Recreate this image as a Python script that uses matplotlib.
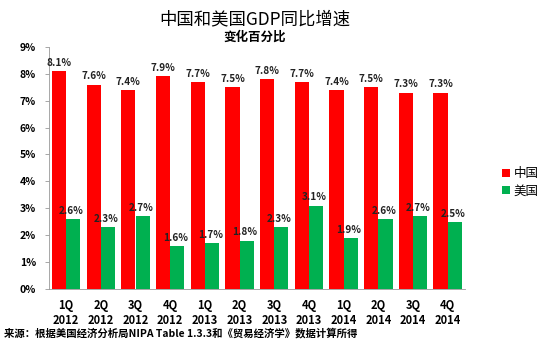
import matplotlib
matplotlib.use("Agg")
import matplotlib.pyplot as plt
import numpy as np

plt.rcParams['font.family'] = ['Noto Sans CJK SC', 'DejaVu Sans']

quarters = ["1Q\n2012", "2Q\n2012", "3Q\n2012", "4Q\n2012",
            "1Q\n2013", "2Q\n2013", "3Q\n2013", "4Q\n2013",
            "1Q\n2014", "2Q\n2014", "3Q\n2014", "4Q\n2014"]
china = [8.1, 7.6, 7.4, 7.9, 7.7, 7.5, 7.8, 7.7, 7.4, 7.5, 7.3, 7.3]
usa = [2.6, 2.3, 2.7, 1.6, 1.7, 1.8, 2.3, 3.1, 1.9, 2.6, 2.7, 2.5]
yticks = [0, 1, 2, 3, 4, 5, 6, 7, 8, 9]

fig = plt.figure(figsize=(5.42, 3.47), dpi=100)
ax = fig.add_axes([0.090, 0.167, 0.768, 0.698])

x = np.arange(len(quarters))
w = 0.41
b1 = ax.bar(x - w/2, china, w, color="#FF0000", label="中国")
b2 = ax.bar(x + w/2, usa, w, color="#00B050", label="美国")

for xi, v in zip(x, china):
    ax.text(xi - w/2, v + 0.12, f"{v:.1f}%", ha="center", va="bottom",
            fontsize=7.2, fontweight="bold", color="#222222")
for xi, v in zip(x, usa):
    ax.text(xi + w/2 - 0.05, v + 0.12, f"{v:.1f}%", ha="center", va="bottom",
            fontsize=7.2, fontweight="bold", color="#222222")

ax.set_xlim(-0.5, len(quarters) - 0.5)
ax.set_ylim(0, 9)
ax.set_yticks(yticks)
ax.set_yticklabels([f"{t}%" for t in yticks], fontsize=7.5, fontweight="bold")
ax.set_xticks(x)
ax.set_xticklabels(quarters, fontsize=8, fontweight="bold", linespacing=1.25)
ax.tick_params(axis="x", length=0, pad=7)
ax.tick_params(axis="y", length=3, color="#999999", pad=12, width=0.6)
for lab in ax.get_yticklabels():
    lab.set_horizontalalignment("center")

for s in ["top", "right"]:
    ax.spines[s].set_visible(False)
ax.spines["left"].set_color("#999999")
ax.spines["left"].set_linewidth(0.6)
ax.spines["bottom"].set_color("#999999")
ax.spines["bottom"].set_linewidth(0.6)

fig.text(0.47, 0.945, "中国和美国GDP同比增速", ha="center", va="center",
         fontsize=12.5)
fig.text(0.47, 0.893, "变化百分比", ha="center", va="center",
         fontsize=9, fontweight="bold")

leg = fig.legend(handles=[b1, b2], loc="center left",
                 bbox_to_anchor=(0.915, 0.475), frameon=False,
                 fontsize=9, handlelength=0.6, handleheight=0.6,
                 handletextpad=0.3, labelspacing=0.35, borderpad=0)

fig.text(0.008, 0.040, "来源：根据美国经济分析局NIPA Table 1.3.3和《贸易经济学》数据计算所得",
         ha="left", va="center", fontsize=7.5, fontweight="bold")

fig.savefig("out.png", dpi=100)
